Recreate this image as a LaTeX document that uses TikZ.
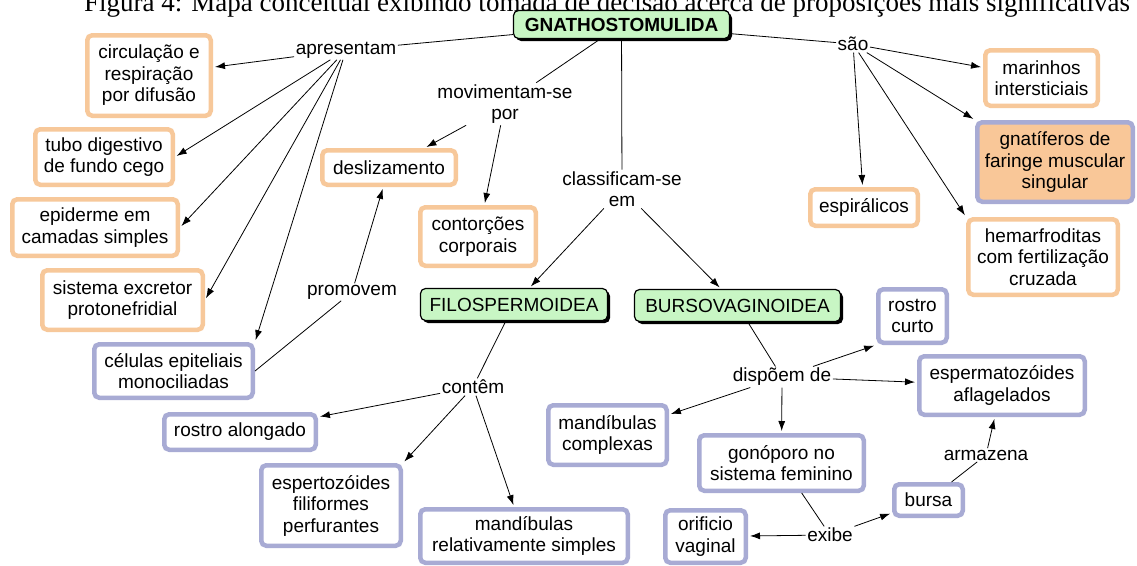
\documentclass[tikz,border=0pt]{standalone}
\usepackage{fontspec}
\setmainfont{Liberation Sans}
\newfontfamily\captionserif{Liberation Serif}
\usetikzlibrary{arrows.meta,shadows}
\definecolor{borange}{RGB}{247,200,154}
\definecolor{blav}{RGB}{168,171,212}
\definecolor{lgreen}{RGB}{200,246,196}
\definecolor{forange}{RGB}{249,199,152}

\begin{document}
\begin{tikzpicture}[x=1pt,y=-1pt,
  every node/.style={font=\fontsize{19}{21.5}\selectfont},
  base/.style={rectangle, rounded corners=5pt, line width=4.5pt, align=center, inner sep=0pt},
  obox/.style={base, draw=borange, fill=white},
  bbox/.style={base, draw=blav, fill=white},
  gbox/.style={rectangle, rounded corners=5pt, draw=black, line width=1.2pt, fill=lgreen,
    inner sep=0pt, drop shadow={shadow xshift=2.5pt, shadow yshift=-2.5pt, fill=black, opacity=1}},
  lbl/.style={inner sep=1.5pt, align=center},
  link/.style={line width=0.8pt},
  arr/.style={link, -{Latex[length=10pt,width=7pt]}, shorten >=2pt},
]
\fill[white] (0,0) rectangle (1137,565);
\useasboundingbox (0,0) rectangle (1137,565);

% caption line, partly above the top edge
\node[font=\captionserif\fontsize{27}{30}\selectfont, anchor=base, inner sep=0pt] (caption) at (607,11)
  {Figura 4: Mapa conceitual exibindo tomada de decisão acerca de proposições mais significativas};

% main concepts
\node[gbox, minimum width=216pt, minimum height=28pt, font=\bfseries\fontsize{19}{21.5}\selectfont] (gnatho) at (621.5,24.5) {GNATHOSTOMULIDA};
\node[gbox, minimum width=187pt, minimum height=32pt] (filo) at (514,304.5) {FILOSPERMOIDEA};
\node[gbox, minimum width=206pt, minimum height=32pt] (burso) at (737.5,305.5) {BURSOVAGINOIDEA};

% orange concepts
\node[obox, minimum width=123.5pt, minimum height=80.5pt] (circ) at (149,75.5) {circulação e\\respiração\\por difusão};
\node[obox, minimum width=137.5pt, minimum height=55.5pt] (tubo) at (104,157) {tubo digestivo\\de fundo cego};
\node[obox, minimum width=165.5pt, minimum height=56.5pt] (epid) at (95,227.5) {epiderme em\\camadas simples};
\node[obox, minimum width=160.5pt, minimum height=59.5pt] (sist) at (122.5,300) {sistema excretor\\protonefridial};
\node[obox, minimum width=133.5pt, minimum height=34.5pt] (desl) at (389,167.5) {deslizamento};
\node[obox, minimum width=115.5pt, minimum height=58.5pt] (contor) at (478,236.5) {contorções\\corporais};
\node[obox, minimum width=112.5pt, minimum height=55.5pt] (marin) at (1041.5,78) {marinhos\\intersticiais};
\node[base, draw=blav, fill=forange, minimum width=155.5pt, minimum height=79.5pt] (gnat) at (1055,162) {gnatíferos de\\faringe muscular\\singular};
\node[obox, minimum width=107.5pt, minimum height=36.5pt] (espir) at (864,207.5) {espirálicos};
\node[obox, minimum width=149.5pt, minimum height=75.5pt] (hemar) at (1043,257) {hemarfroditas\\com fertilização\\cruzada};

% lavender concepts
\node[bbox, minimum width=158.5pt, minimum height=53.5pt] (cel) at (173.5,371) {células epiteliais\\monociliadas};
\node[bbox, minimum width=151.5pt, minimum height=35.5pt] (ralong) at (240,432) {rostro alongado};
\node[bbox, minimum width=139.5pt, minimum height=80.5pt] (esp) at (331,505.5) {espertozóides\\filiformes\\perfurantes};
\node[bbox, minimum width=207.5pt, minimum height=53.5pt] (mandrel) at (524,536) {mandíbulas\\relativamente simples};
\node[bbox, minimum width=80.5pt, minimum height=52.5pt] (orif) at (705.5,536.5) {orificio\\vaginal};
\node[bbox, minimum width=164.5pt, minimum height=55.5pt] (gono) at (781.5,463) {gonóporo no\\sistema feminino};
\node[bbox, minimum width=118.5pt, minimum height=59.5pt] (mandc) at (607.5,435) {mandíbulas\\complexas};
\node[bbox, minimum width=68.5pt, minimum height=53.5pt] (rcurto) at (912.5,316) {rostro\\curto};
\node[bbox, minimum width=165.5pt, minimum height=58.5pt] (espafl) at (1002,385.5) {espermatozóides\\aflagelados};
\node[bbox, minimum width=68.5pt, minimum height=31.5pt] (bursa) at (928.5,500) {bursa};

% linking phrases
\node[lbl] (apres) at (346,50) {apresentam};
\node[lbl] (sao) at (853,44) {são};
\node[lbl] (mov) at (505,104) {movimentam-se\\por};
\node[lbl] (classif) at (622,189) {classificam-se\\em};
\node[lbl] (prom) at (352,292) {promovem};
\node[lbl] (contem) at (473,387) {contêm};
\node[lbl] (disp) at (782,377) {dispõem de};
\node[lbl] (exibe) at (830,535) {exibe};
\node[lbl] (armaz) at (986,455) {armazena};

% connectors
\draw[link] (gnatho) -- (apres);
\draw[arr] (apres) -- (circ);
\draw[arr] (apres) -- (tubo.east);
\draw[arr] (apres) -- (epid.east);
\draw[arr] (apres) -- (sist.east);
\draw[arr] (apres) -- (cel.north east);

\draw[link] (gnatho) -- (mov);
\draw[arr] (mov) -- (desl);
\draw[arr] (mov) -- (contor);

\draw[link] (gnatho) -- (classif);
\draw[arr] (classif) -- (filo);
\draw[arr] (classif) -- (burso);

\draw[link] (gnatho) -- (sao);
\draw[arr] (sao) -- (marin);
\draw[arr] (sao) -- (gnat.north west);
\draw[arr] (sao) -- (espir);
\draw[arr] (sao) -- (hemar.north west);

\draw[link] (cel.east) -- (prom);
\draw[arr] (prom) -- (desl);

\draw[link] (filo) -- (contem);
\draw[arr] (contem) -- (ralong);
\draw[arr] (contem) -- (esp.north east);
\draw[arr] (contem) -- (mandrel);

\draw[link] (burso) -- (disp);
\draw[arr] (disp) -- (rcurto.south west);
\draw[arr] (disp) -- (espafl);
\draw[arr] (disp) -- (mandc);
\draw[arr] (disp) -- (gono);

\draw[link] (gono) -- (exibe);
\draw[arr] (exibe) -- (orif);
\draw[arr] (exibe) -- (bursa);
\draw[link] (bursa) -- (armaz);
\draw[arr] (armaz) -- (espafl);
\end{tikzpicture}
\end{document}
